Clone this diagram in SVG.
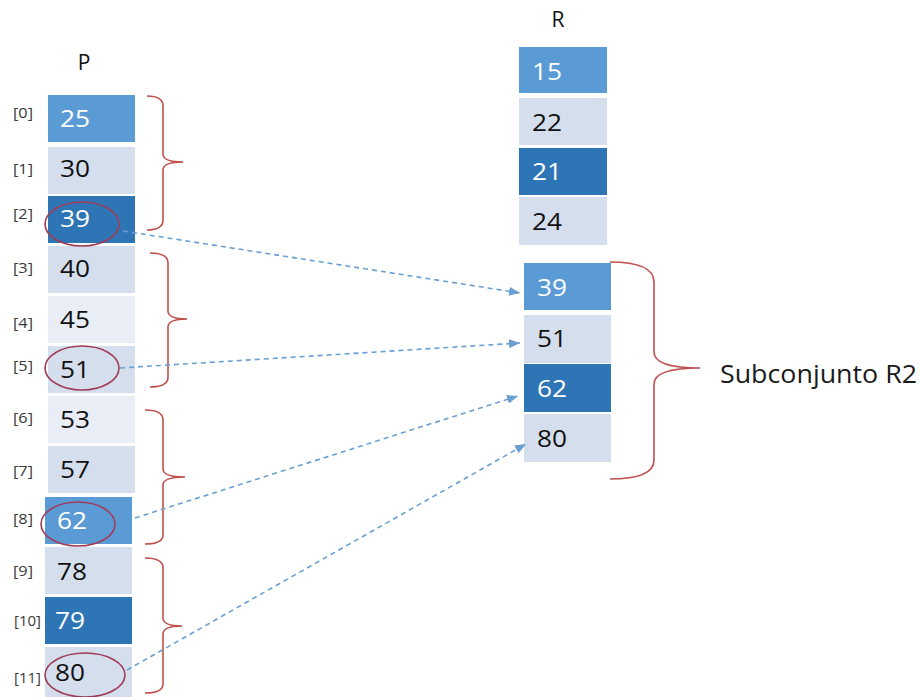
<svg xmlns="http://www.w3.org/2000/svg" width="920" height="697" viewBox="0 0 920 697">
<style>
text{font-family:"Open Sans","Liberation Sans",sans-serif}
.mid{fill:#5B9BD5}
.dark{fill:#2E75B6}
.light{fill:#D5DEED}
.lighter{fill:#E9EEF6}
.num{font-size:23px;fill:#111}
.numw{font-size:23px;fill:#fff}
.idx{font-size:14px;fill:#3a3a3a}
.lbl{font-size:21px;fill:#111}
.brace{fill:none;stroke:#C0504D;stroke-width:1.6}
.ring{fill:none;stroke:#A03C58;stroke-width:1.6}
.arrow{fill:none;stroke:#6A9FD4;stroke-width:1.6;stroke-dasharray:5 4;marker-end:url(#ah)}
</style>
<defs>
<marker id="ah" markerUnits="userSpaceOnUse" markerWidth="11" markerHeight="9" refX="11" refY="4.5" orient="auto">
<path d="M0,0 L11,4.5 L0,9 z" fill="#6A9FD4"/>
</marker>
</defs>
<rect width="920" height="697" fill="#fff"/>

<g id="labelP"><text class="lbl" x="84" y="70" text-anchor="middle">P</text></g>
<g id="labelR"><text class="lbl" x="558" y="27" text-anchor="middle">R</text></g>

<g id="P">
<g id="p0"><rect class="mid" x="48" y="95" width="87" height="47"/><text class="numw" x="60" y="127" textLength="30" lengthAdjust="spacingAndGlyphs">25</text><text class="idx" x="13" y="118" textLength="20" lengthAdjust="spacingAndGlyphs">[0]</text></g>
<g id="p1"><rect class="light" x="48" y="147" width="87" height="47"/><text class="num" x="60" y="177" textLength="30" lengthAdjust="spacingAndGlyphs">30</text><text class="idx" x="13" y="174" textLength="20" lengthAdjust="spacingAndGlyphs">[1]</text></g>
<g id="p2"><rect class="dark" x="48" y="196" width="87" height="47"/><text class="numw" x="60" y="227" textLength="30" lengthAdjust="spacingAndGlyphs">39</text><text class="idx" x="13" y="219" textLength="20" lengthAdjust="spacingAndGlyphs">[2]</text></g>
<g id="p3"><rect class="light" x="48" y="246" width="87" height="47"/><text class="num" x="60" y="277" textLength="30" lengthAdjust="spacingAndGlyphs">40</text><text class="idx" x="13" y="273" textLength="20" lengthAdjust="spacingAndGlyphs">[3]</text></g>
<g id="p4"><rect class="lighter" x="48" y="296" width="87" height="47"/><text class="num" x="60" y="328" textLength="30" lengthAdjust="spacingAndGlyphs">45</text><text class="idx" x="13" y="328" textLength="20" lengthAdjust="spacingAndGlyphs">[4]</text></g>
<g id="p5"><rect class="light" x="48" y="346" width="87" height="47"/><text class="num" x="60" y="378" textLength="30" lengthAdjust="spacingAndGlyphs">51</text><text class="idx" x="13" y="371" textLength="20" lengthAdjust="spacingAndGlyphs">[5]</text></g>
<g id="p6"><rect class="lighter" x="48" y="396" width="87" height="47"/><text class="num" x="60" y="428" textLength="30" lengthAdjust="spacingAndGlyphs">53</text><text class="idx" x="13" y="423" textLength="20" lengthAdjust="spacingAndGlyphs">[6]</text></g>
<g id="p7"><rect class="light" x="48" y="446" width="87" height="47"/><text class="num" x="60" y="478" textLength="30" lengthAdjust="spacingAndGlyphs">57</text><text class="idx" x="13" y="476" textLength="20" lengthAdjust="spacingAndGlyphs">[7]</text></g>
<g id="p8"><rect class="mid" x="45" y="497" width="87" height="47"/><text class="numw" x="57" y="529" textLength="30" lengthAdjust="spacingAndGlyphs">62</text><text class="idx" x="13" y="524" textLength="20" lengthAdjust="spacingAndGlyphs">[8]</text></g>
<g id="p9"><rect class="light" x="45" y="547" width="87" height="47"/><text class="num" x="57" y="580" textLength="30" lengthAdjust="spacingAndGlyphs">78</text><text class="idx" x="13" y="576" textLength="20" lengthAdjust="spacingAndGlyphs">[9]</text></g>
<g id="p10"><rect class="dark" x="45" y="597" width="87" height="47"/><text class="numw" x="55" y="629" textLength="30" lengthAdjust="spacingAndGlyphs">79</text><text class="idx" x="14" y="626" textLength="27" lengthAdjust="spacingAndGlyphs">[10]</text></g>
<g id="p11"><rect class="light" x="45" y="647" width="87" height="50"/><text class="num" x="55" y="681" textLength="30" lengthAdjust="spacingAndGlyphs">80</text><text class="idx" x="14" y="683" textLength="27" lengthAdjust="spacingAndGlyphs">[11]</text></g>
</g>

<g id="rings">
<ellipse class="ring" cx="82" cy="224" rx="37" ry="22"/>
<ellipse class="ring" cx="82" cy="368" rx="37" ry="22"/>
<ellipse class="ring" cx="78" cy="524" rx="37" ry="22"/>
<ellipse class="ring" cx="85" cy="675" rx="40" ry="22"/>
</g>

<g id="R">
<g id="r0"><rect class="mid" x="519" y="47" width="88" height="46"/><text class="numw" x="532" y="80" textLength="30" lengthAdjust="spacingAndGlyphs">15</text></g>
<g id="r1"><rect class="light" x="519" y="98" width="88" height="47"/><text class="num" x="532" y="131" textLength="30" lengthAdjust="spacingAndGlyphs">22</text></g>
<g id="r2"><rect class="dark" x="519" y="148" width="88" height="47"/><text class="numw" x="532" y="180" textLength="30" lengthAdjust="spacingAndGlyphs">21</text></g>
<g id="r3"><rect class="light" x="519" y="197" width="88" height="48"/><text class="num" x="532" y="230" textLength="30" lengthAdjust="spacingAndGlyphs">24</text></g>
</g>

<g id="R2">
<g id="s0"><rect class="mid" x="524" y="263" width="87" height="47"/><text class="numw" x="537" y="296" textLength="30" lengthAdjust="spacingAndGlyphs">39</text></g>
<g id="s1"><rect class="light" x="524" y="315" width="87" height="48"/><text class="num" x="537" y="347" textLength="30" lengthAdjust="spacingAndGlyphs">51</text></g>
<g id="s2"><rect class="dark" x="524" y="364" width="87" height="48"/><text class="numw" x="537" y="397" textLength="30" lengthAdjust="spacingAndGlyphs">62</text></g>
<g id="s3"><rect class="light" x="524" y="414" width="87" height="48"/><text class="num" x="537" y="447" textLength="30" lengthAdjust="spacingAndGlyphs">80</text></g>
</g>

<g id="braces">
<path class="brace" d="M147,96 Q163,96 163,106 L163,154 Q163,162 183,162 Q163,162 163,170 L163,220 Q163,230 147,230"/>
<path class="brace" d="M150,253 Q168,253 168,263 L168,311 Q168,319 187,319 Q168,319 168,327 L168,377 Q168,387 150,387"/>
<path class="brace" d="M145,410 Q163,410 163,420 L163,469 Q163,477 185,477 Q163,477 163,485 L163,535 Q163,544 145,544"/>
<path class="brace" d="M145,558 Q163,558 163,568 L163,618 Q163,626 182,626 Q163,626 163,634 L163,684 Q163,693 145,693"/>
<path class="brace" d="M610,262 Q654,262 654,282 L654,352 Q654,368 700,368 Q654,368 654,384 L654,460 Q654,479 610,479"/>
</g>

<g id="connectors">
<line class="arrow" x1="123" y1="231" x2="520" y2="293"/>
<line class="arrow" x1="120" y1="368" x2="520" y2="343"/>
<line class="arrow" x1="135" y1="518" x2="518" y2="396"/>
<line class="arrow" x1="127" y1="670" x2="526" y2="444"/>
</g>

<g id="subset"><text x="720" y="383" font-size="25" fill="#1a1a1a" textLength="197" lengthAdjust="spacingAndGlyphs">Subconjunto R2</text></g>
</svg>
